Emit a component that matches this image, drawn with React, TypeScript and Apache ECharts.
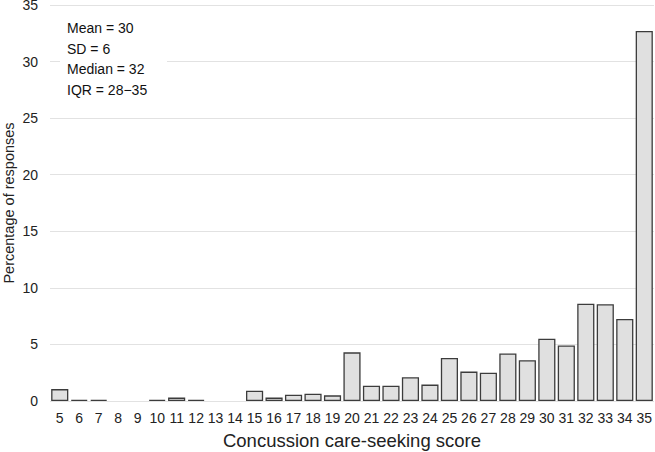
import React, { useEffect, useRef } from "react";
import * as echarts from "echarts";

const categories = ["5","6","7","8","9","10","11","12","13","14","15","16","17","18","19","20","21","22","23","24","25","26","27","28","29","30","31","32","33","34","35"];
const percentages = [1.05,0.1,0.1,0,0,0.1,0.3,0.1,0,0,0.9,0.3,0.55,0.65,0.5,4.3,1.35,1.35,2.1,1.45,3.8,2.6,2.5,4.2,3.6,5.5,4.9,8.6,8.55,7.25,32.7];
const yTicks = [0, 5, 10, 15, 20, 25, 30, 35];
const statsLines = ["Mean = 30", "SD = 6", "Median = 32", "IQR = 28\u221235"];

export default function App() {
  const ref = useRef<HTMLDivElement>(null);
  useEffect(() => {
    if (!ref.current) return;
    const chart = echarts.init(ref.current, undefined, { renderer: "svg" });
    const font = "Liberation Sans, Arial, sans-serif";
    chart.setOption({
      animation: false,
      grid: { left: 50, right: 1, top: 5, bottom: 51, containLabel: false, outerBoundsMode: "none" },
      xAxis: {
        type: "category",
        data: categories,
        name: "Concussion care-seeking score",
        nameLocation: "middle",
        nameGap: 30,
        nameMoveOverlap: false,
        nameTextStyle: { fontFamily: font, fontSize: 18.5, color: "#222" },
        axisLine: { show: false },
        axisTick: { show: false },
        axisLabel: { fontFamily: font, fontSize: 14, color: "#222", margin: 10, interval: 0 },
      },
      yAxis: {
        type: "value",
        min: yTicks[0],
        max: yTicks[yTicks.length - 1],
        interval: 5,
        name: "Percentage of responses",
        nameLocation: "middle",
        nameGap: 34,
        nameMoveOverlap: false,
        nameRotate: 90,
        nameTextStyle: { fontFamily: font, fontSize: 14.5, color: "#222" },
        axisLine: { show: false },
        axisTick: { show: false },
        axisLabel: { fontFamily: font, fontSize: 14, color: "#222", margin: 12 },
        splitLine: { lineStyle: { color: "#e2e2e2", width: 1 } },
      },
      series: [
        {
          type: "bar",
          data: percentages.map((v) => (v === 0 ? null : v)),
          barCategoryGap: "12%",
          itemStyle: { color: "#e0e0e0", borderColor: "#3c3c3c", borderWidth: 1.3 },
        },
      ],
      graphic: [
        {
          type: "rect",
          left: 60,
          top: 14,
          shape: { width: 107, height: 86 },
          style: { fill: "#ffffff" },
          z: 10,
        },
        {
          type: "text",
          left: 67,
          top: 18,
          z: 11,
          style: {
            text: statsLines.join("\n"),
            font: `14px ${font}`,
            fill: "#111",
            lineHeight: 20.5,
          },
        },
      ],
    });
    return () => chart.dispose();
  }, []);
  return <div ref={ref} style={{ width: 655, height: 452, position: "absolute", left: 0, top: 0 }} />;
}
